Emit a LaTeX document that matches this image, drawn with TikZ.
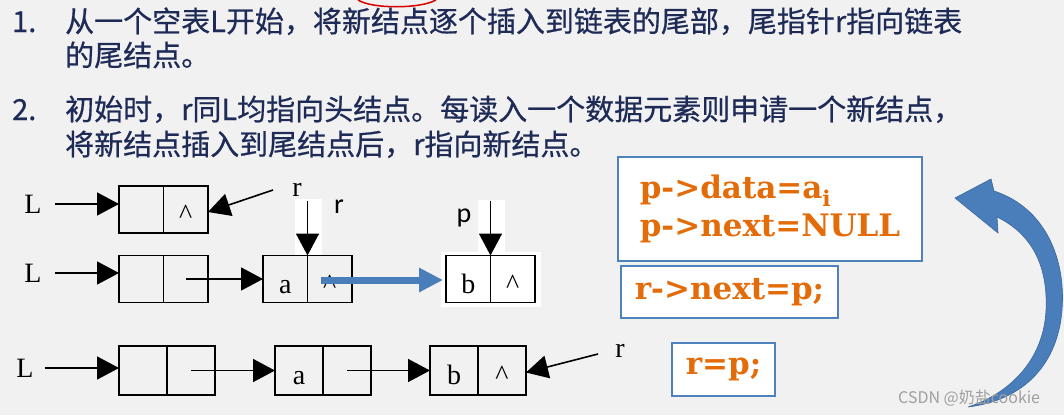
\documentclass[tikz,border=0pt]{standalone}
\usepackage{fontspec}
\setmainfont{Liberation Serif}
\newfontfamily\cjkfont[FakeBold=0.6]{Noto Sans CJK SC}
\newfontfamily\markfont{Noto Sans CJK SC}
\newfontfamily\codefont{DejaVu Serif}
\newfontfamily\labelfont{Carlito}
\usetikzlibrary{positioning,arrows.meta}
\definecolor{bgcol}{HTML}{F1F1F1}
\definecolor{textnavy}{HTML}{1F2B57}
\definecolor{boxblue}{HTML}{4F81BD}
\definecolor{codeorange}{HTML}{E36C09}
\definecolor{arrowblue}{HTML}{4A7EBB}
\definecolor{arrowedge}{HTML}{3A6799}

\begin{document}
\begin{tikzpicture}[
    x=1pt, y=-1pt,
    stepline/.style={font=\cjkfont\fontsize{29}{34}\selectfont, text=textnavy, anchor=base west, inner sep=0pt},
    cell/.style={draw, line width=1.4pt, outer sep=0pt, inner sep=0pt, minimum width=44.5pt, minimum height=47pt, text height=28pt, text depth=0pt, font=\fontsize{28}{30}\selectfont},
    widecell/.style={cell, minimum width=48pt, minimum height=49pt},
    ptrname/.style={font=\fontsize{28}{30}\selectfont, inner sep=0pt},
    sansname/.style={font=\labelfont\fontsize{28}{30}\selectfont, inner sep=0pt},
    ptr/.style={-{Triangle[length=22pt,width=23pt]}, line width=1.6pt},
    codebox/.style={draw=boxblue, line width=1.5pt, fill=white, align=left, text=codeorange, font=\codefont\bfseries\fontsize{31}{38}\selectfont},
  ]
    \fill[bgcol] (0,0) rectangle (1064,415);
    \useasboundingbox (0,0) rectangle (1064,415);
    \draw[red!85!black, line width=1.5pt] (358,0) .. controls (372,9) and (420,9) .. (436,0);

    % the two steps
    \node[stepline] (num1) at (12,32) {1.};
    \node[stepline] (item1a) at (65,32) {从一个空表L开始，将新结点逐个插入到链表的尾部，尾指针r指向链表};
    \node[stepline] (item1b) at (65,66) {的尾结点。};
    \node[stepline] (num2) at (12,120) {2.};
    \node[stepline] (item2a) at (65,120) {初始时，r同L均指向头结点。每读入一个数据元素则申请一个新结点，};
    \node[stepline] (item2b) at (65,155) {将新结点插入到尾结点后，r指向新结点。};

    % empty list
    \node[cell] (n1d) at (141.25,209.5) {};
    \node[cell,right=0pt of n1d] (n1p) {\textasciicircum};
    \node[ptrname] (L1) at (33,204) {L};
    \draw[ptr,shorten <=13pt] (L1.east) -- (L1.east -| n1d.west);
    \node[ptrname] (r1) at (297,190) {r};
    \coordinate (r1tail) at (273,190);
    \draw[ptr] (r1tail) -- ([yshift=-2.5pt]n1p.east);

    % inserting b
    \node[cell] (n2d) at (141.25,279) {};
    \node[cell,right=0pt of n2d] (n2p) {};
    \node[ptrname] (L2) at (33,273) {L};
    \draw[ptr,shorten <=13pt] (L2.east) -- (L2.east -| n2d.west);
    \node[cell] (n3d) at (285.25,279) {a};
    \node[cell,right=0pt of n3d] (n3p) {\textasciicircum};
    \draw[ptr] (n2p.center) -- (n3d.west);
    \fill[white] (295,199) rectangle (322,255);
    \coordinate[above=55pt of n3p.north west] (r2tail);
    \draw[ptr] (r2tail) -- (n3p.north west);
    \node[sansname] (r2) at (339,206.5) {r};

    \fill[white] (441,252) rectangle (541,307);
    \node[cell,fill=white] (n4d) at (468.25,279) {b};
    \node[cell,fill=white,right=0pt of n4d] (n4p) {\textasciicircum};
    \fill[white] (478,200) rectangle (505,255);
    \coordinate[above=55pt of n4p.north west] (ptail);
    \draw[ptr] (ptail) -- (n4p.north west);
    \node[sansname] (p) at (464,218) {p};
    \draw[arrowblue, line width=7pt, -{Triangle[length=24pt,width=23pt]}] ([xshift=-9pt,yshift=-1pt]n3p.center) -- ([xshift=-3pt,yshift=-1pt]n4d.west);

    % after r=p
    \node[widecell] (n5d) at (143,370.5) {};
    \node[widecell,right=0pt of n5d] (n5p) {};
    \node[widecell] (n6d) at (299,370.5) {a};
    \node[widecell,right=0pt of n6d] (n6p) {};
    \node[widecell] (n7d) at (454,370.5) {b};
    \node[widecell,right=0pt of n7d] (n7p) {\textasciicircum};
    \node[ptrname] (L3) at (25,368) {L};
    \draw[ptr,shorten <=11pt] (L3.east) -- (L3.east -| n5d.west);
    \draw[ptr] (n5p.center) -- (n6d.west);
    \draw[ptr] (n6p.center) -- (n7d.west);
    \node[ptrname] (r3) at (620,351) {r};
    \coordinate (r3tail) at (598,354);
    \draw[ptr] (r3tail) -- ([yshift=-2pt]n7p.east);

    % code
    \node[codebox, minimum width=304pt, minimum height=104pt] (setp) at (770,209) {p->data=a\textsubscript{i}\\p->next=NULL};
    \node[codebox, minimum width=217pt, minimum height=52pt] (link) at (729.5,292) {r->next=p;};
    \node[codebox, minimum width=103pt, minimum height=53pt] (move) at (723.5,369.5) {r=p;};

    % loop arrow
    \filldraw[fill=arrowblue, draw=arrowedge, line width=0.6pt]
      (994,191) .. controls (1046,208) and (1066,260) .. (1062,310)
      .. controls (1058,362) and (1026,400) .. (968,407)
      .. controls (1014,392) and (1044,356) .. (1046,310)
      .. controls (1048,266) and (1032,234) .. (997,217)
      -- (998,233) -- (955,198) -- (991,179) -- cycle;

    \node[font=\markfont\fontsize{16}{18}\selectfont, text=gray!75, anchor=base west, inner sep=0pt] (mark) at (898,403) {CSDN @奶盐cookie};
\end{tikzpicture}
\end{document}
